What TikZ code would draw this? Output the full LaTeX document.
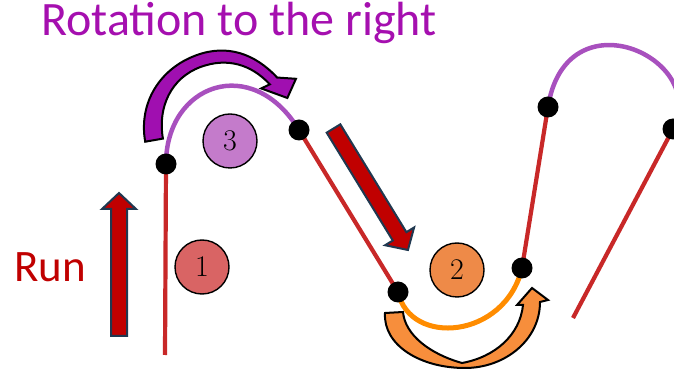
\documentclass[tikz,border=0pt]{standalone}
\usepackage{fontspec}
\newfontfamily\carlito{Carlito}
\usetikzlibrary{calc}
\definecolor{redline}{RGB}{200,40,40}
\definecolor{purplearc}{RGB}{168,80,190}
\definecolor{orangearc}{RGB}{255,140,0}
\definecolor{cfillA}{RGB}{217,100,100}
\definecolor{cfillB}{RGB}{238,138,72}
\definecolor{cfillC}{RGB}{196,123,203}
\definecolor{arrowpurple}{RGB}{160,15,176}
\definecolor{titlecol}{RGB}{165,15,175}
\definecolor{runcol}{RGB}{192,0,0}
\definecolor{blockborder}{RGB}{32,56,80}
\definecolor{orangefill}{RGB}{247,142,60}
\tikzset{
  redseg/.style={draw=redline, line width=4.2pt},
  purpleseg/.style={draw=purplearc, line width=4.5pt},
  orangeseg/.style={draw=orangearc, line width=5pt},
  blackdot/.style={circle, fill=black, inner sep=0pt, minimum size=21pt},
  numcircle/.style={circle, draw=black, line width=1.4pt, inner sep=0pt, minimum size=54pt, font=\fontsize{30}{30}\selectfont},
  blockarrow/.style={fill=runcol, draw=blockborder, line width=2pt, line join=miter},
  curvedarrow/.style={draw=black, line width=2pt, line join=miter},
}
\newcommand\blkarrow[3]{%
  \draw[blockarrow, shift={#1}, rotate=#2] (0,-8) -- ({#3-16},-8) -- ({#3-16},-17) -- (#3,0) -- ({#3-16},17) -- ({#3-16},8) -- (0,8) -- cycle;}
\begin{document}
\begin{tikzpicture}[x=1pt,y=1pt]
\useasboundingbox (0,0) rectangle (674,369);
\clip (0,0) rectangle (674,369);
% positions
\coordinate (pH) at (165,14);
\coordinate (pA) at (166,205);
\coordinate (pB) at (299,239);
\coordinate (pC) at (398,77);
\coordinate (pD) at (522,101);
\coordinate (pE) at (548,262);
\coordinate (pF) at (673,240);
\coordinate (pG) at (573,51);
% track
\draw[redseg] (pH) -- (pA);
\draw[purpleseg] (pA) .. controls (166,285) and (252,316) .. (pB);
\draw[redseg] (pB) -- (pC);
\draw[orangeseg] (pC) .. controls (410,22) and (505,30) .. (pD);
\draw[redseg] (pD) -- (pE);
\draw[purpleseg] (pE) .. controls (566,376) and (710,311) .. (pF);
\draw[redseg] (pF) -- (pG);
% dots
\foreach \n/\p in {a/pA,b/pB,c/pC,d/pD,e/pE,f/pF}
  \node[blackdot] (\n) at (\p) {};
% numbered circles
\node[numcircle, fill=cfillA] (n1) at (202,102) {1};
\node[numcircle, fill=cfillC] (n3) at (230,228) {3};
\node[numcircle, fill=cfillB] (n2) at (457,99) {2};
% block arrows
\blkarrow{(119,33)}{90}{143}
\blkarrow{(333.5,240.5)}{-58.5}{142.5}
% purple curved arrow
\begin{scope}[shift={(223,241)}]
\draw[curvedarrow, fill=arrowpurple] (190:61) -- (190:79)
  to[out=100, in=200] (110:77.5)
  to[out=20, in=133] (43:74)
  -- (34:88) -- (25:71) -- (46:55) -- (43:64)
  to[out=133, in=20] (110:65)
  to[out=200, in=100] (190:61) -- cycle;
\end{scope}
% orange curved arrow
\draw[curvedarrow, fill=orangefill] (385,56) .. controls (383,24) and (420,1) .. (465,1)
  .. controls (505,1) and (540,29) .. (540,67) -- (548,69) -- (532,81) -- (517,64) -- (523,64)
  .. controls (520,34) and (495,12) .. (462,6) .. controls (430,15) and (405,34) .. (403,57) -- cycle;
% texts
\node[anchor=base west, inner sep=0pt, text=titlecol, font=\carlito\fontsize{48}{52}\selectfont] (title) at (41,333) {Rotation to the right};
\node[anchor=base west, inner sep=0pt, text=runcol, font=\carlito\fontsize{45}{50}\selectfont] (run) at (14,87) {Run};
\end{tikzpicture}
\end{document}
